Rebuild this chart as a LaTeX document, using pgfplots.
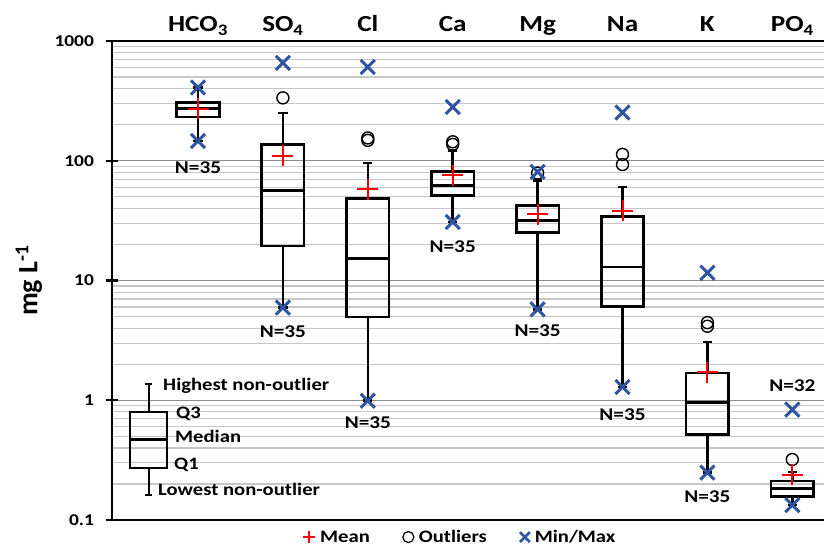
\documentclass[border=0pt]{standalone}
\usepackage{fontspec}
\setmainfont{Carlito}[FakeStretch=1.18]
\newfontfamily\plainfont{Carlito}
\usepackage{pgfplots}
\pgfplotsset{compat=1.18}
\definecolor{mmblue}{RGB}{47,85,160}
\definecolor{mmred}{RGB}{255,0,0}
\begin{document}
\begin{tikzpicture}
\begin{axis}[
  at={(112bp,27bp)}, anchor=south west,
  scale only axis, width=718bp, height=479bp,
  ymode=log, ymin=0.1, ymax=1000,
  xmin=-0.013, xmax=8.444,
  xtick=\empty,
  ytick={0.1,1,10,100,1000},
  yticklabels={0.1,1,10,100,1000},
  minor ytick={0.2,0.3,0.4,0.5,0.6,0.7,0.8,0.9,2,3,4,5,6,7,8,9,20,30,40,50,60,70,80,90,200,300,400,500,600,700,800,900},
  ytick pos=left,
  tick align=center,
  major tick length=13bp, minor tick length=0pt,
  major tick style={line width=2.2bp, black},
  ymajorgrids=true, yminorgrids=true,
  major grid style={line width=1.2bp, black!45},
  minor grid style={line width=1.2bp, black!22},
  axis line style={line width=2.6bp, black},
  yticklabel style={font=\fontsize{16.5bp}{18bp}\selectfont\bfseries, xshift=-8bp},
  /pgf/number format/assume math mode=true,
  clip=false,
  unbounded coords=jump,
  legend style={draw=none, fill=none, legend columns=3, at={(rel axis cs:0.2618,0)}, anchor=north west, yshift=-6bp,
    font=\fontsize{17.5bp}{20bp}\selectfont\bfseries,
    /tikz/every odd column/.append style={column sep=3bp},
    /tikz/every even column/.append style={column sep=31bp}},
  legend image code/.code={\draw[#1] plot coordinates {(0bp,0bp)};},
  boxst/.style={forget plot, black, line width=2.6bp, mark=none, line join=miter},
]
% ---- box plots: box (Q1-Q3), median, upper whisker + cap, lower whisker + cap
% HCO3: 146 / 232 / 273 / 306 / 409
\addplot[boxst] coordinates {(1,232)(1.25,232)(1.25,306)(0.75,306)(0.75,232)(1,232) (nan,nan) (0.75,273)(1.25,273) (nan,nan) (1,306)(1,409) (nan,nan) (0.945,409)(1.055,409) (nan,nan) (1,232)(1,146) (nan,nan) (0.945,146)(1.055,146)};
% SO4: 5.94 / 19.4 / 56.7 / 136.5 / 251
\addplot[boxst] coordinates {(2,19.4)(2.25,19.4)(2.25,136.5)(1.75,136.5)(1.75,19.4)(2,19.4) (nan,nan) (1.75,56.7)(2.25,56.7) (nan,nan) (2,136.5)(2,251) (nan,nan) (1.945,251)(2.055,251) (nan,nan) (2,19.4)(2,5.94) (nan,nan) (1.945,5.94)(2.055,5.94)};
% Cl: 0.99 / 4.96 / 15.2 / 48.6 / 96
\addplot[boxst] coordinates {(3,4.96)(3.25,4.96)(3.25,48.6)(2.75,48.6)(2.75,4.96)(3,4.96) (nan,nan) (2.75,15.2)(3.25,15.2) (nan,nan) (3,48.6)(3,96) (nan,nan) (2.945,96)(3.055,96) (nan,nan) (3,4.96)(3,0.99) (nan,nan) (2.945,0.99)(3.055,0.99)};
% Ca: 30.8 / 51.5 / 62.4 / 81.7 / 122
\addplot[boxst] coordinates {(4,51.5)(4.25,51.5)(4.25,81.7)(3.75,81.7)(3.75,51.5)(4,51.5) (nan,nan) (3.75,62.4)(4.25,62.4) (nan,nan) (4,81.7)(4,122) (nan,nan) (3.945,122)(4.055,122) (nan,nan) (4,51.5)(4,30.8) (nan,nan) (3.945,30.8)(4.055,30.8)};
% Mg: 5.75 / 25.1 / 31.8 / 42.5 / 68.7
\addplot[boxst] coordinates {(5,25.1)(5.25,25.1)(5.25,42.5)(4.75,42.5)(4.75,25.1)(5,25.1) (nan,nan) (4.75,31.8)(5.25,31.8) (nan,nan) (5,42.5)(5,68.7) (nan,nan) (4.945,68.7)(5.055,68.7) (nan,nan) (5,25.1)(5,5.75) (nan,nan) (4.945,5.75)(5.055,5.75)};
% Na: 1.29 / 6.1 / 13.0 / 34.4 / 60.4
\addplot[boxst] coordinates {(6,6.1)(6.25,6.1)(6.25,34.4)(5.75,34.4)(5.75,6.1)(6,6.1) (nan,nan) (5.75,13.0)(6.25,13.0) (nan,nan) (6,34.4)(6,60.4) (nan,nan) (5.945,60.4)(6.055,60.4) (nan,nan) (6,6.1)(6,1.29) (nan,nan) (5.945,1.29)(6.055,1.29)};
% K: 0.249 / 0.52 / 0.957 / 1.69 / 3.07
\addplot[boxst] coordinates {(7,0.52)(7.25,0.52)(7.25,1.69)(6.75,1.69)(6.75,0.52)(7,0.52) (nan,nan) (6.75,0.957)(7.25,0.957) (nan,nan) (7,1.69)(7,3.07) (nan,nan) (6.945,3.07)(7.055,3.07) (nan,nan) (7,0.52)(7,0.249) (nan,nan) (6.945,0.249)(7.055,0.249)};
% PO4: 0.133 / 0.158 / 0.183 / 0.212 / 0.252
\addplot[boxst] coordinates {(8,0.158)(8.25,0.158)(8.25,0.212)(7.75,0.212)(7.75,0.158)(8,0.158) (nan,nan) (7.75,0.183)(8.25,0.183) (nan,nan) (8,0.212)(8,0.252) (nan,nan) (7.945,0.252)(8.055,0.252) (nan,nan) (8,0.158)(8,0.133) (nan,nan) (7.945,0.133)(8.055,0.133)};
% key box: 0.163 / 0.274 / 0.47 / 0.80 / 1.36
\addplot[boxst, line width=2.1bp] coordinates {(0.419,0.274)(0.639,0.274)(0.639,0.80)(0.199,0.80)(0.199,0.274)(0.419,0.274) (nan,nan) (0.199,0.47)(0.639,0.47) (nan,nan) (0.419,0.80)(0.419,1.36) (nan,nan) (0.374,1.36)(0.464,1.36) (nan,nan) (0.419,0.274)(0.419,0.163) (nan,nan) (0.374,0.163)(0.464,0.163)};
% ---- outliers
\addplot[forget plot, only marks, mark=o, mark size=6bp, black, line width=1.4bp] coordinates {
 (2,335) (3,148) (3,155) (4,137) (4,144) (5,79) (6,113) (6,93) (7,4.45) (7,4.15) (8,0.32)};
% ---- min / max
\addplot[forget plot, only marks, mark=x, mark size=10bp, mmblue, line width=3bp] coordinates {
 (1,146) (1,409) (2,5.94) (2,656) (3,0.99) (3,607) (4,30.8) (4,281) (5,5.75) (5,80.7) (6,1.29) (6,253) (7,0.249) (7,11.6) (8,0.133) (8,0.836)};
% ---- mean
\addplot[forget plot, only marks, mark=+, mark size=10.5bp, mmred, line width=2bp] coordinates {
 (1,273) (2,110) (3,57.8) (4,76) (5,35.6) (6,38.1) (7,1.72) (8,0.239)};
% ---- legend
\addlegendimage{only marks, mark=+, mark size=6bp, mmred, line width=2bp}
\addlegendentry{Mean}
\addlegendimage{only marks, mark=o, mark size=5.5bp, black, line width=1.2bp}
\addlegendentry{Outliers}
\addlegendimage{only marks, mark=x, mark size=7bp, mmblue, line width=2.6bp}
\addlegendentry{Min/Max}
% ---- y axis title
\node[rotate=90, anchor=center, inner sep=0pt, font=\plainfont\fontsize{28bp}{30bp}\selectfont\bfseries] at ([xshift=-83bp]rel axis cs:0,0.5) {mg L\textsuperscript{-1}};
% ---- category labels
\begin{scope}[every node/.style={anchor=base, yshift=9bp, font=\fontsize{23bp}{26bp}\selectfont\bfseries}]
\node at (axis cs:1,1000) {HCO\textsubscript{3}};
\node at (axis cs:2,1000) {SO\textsubscript{4}};
\node at (axis cs:3,1000) {Cl};
\node at (axis cs:4,1000) {Ca};
\node at (axis cs:5,1000) {Mg};
\node at (axis cs:6,1000) {Na};
\node at (axis cs:7,1000) {K};
\node at (axis cs:8,1000) {PO\textsubscript{4}};
\end{scope}
% ---- N labels
\begin{scope}[every node/.style={font=\fontsize{18bp}{20bp}\selectfont\bfseries, anchor=center}]
\node at (axis cs:1,87.1) {N=35};
\node at (axis cs:2,3.77) {N=35};
\node at (axis cs:3,0.646) {N=35};
\node at (axis cs:4,19.3) {N=35};
\node at (axis cs:5,3.84) {N=35};
\node at (axis cs:6,0.764) {N=35};
\node at (axis cs:7,0.156) {N=35};
\node at (axis cs:8,1.33) {N=32};
\end{scope}
% ---- key labels
\begin{scope}[every node/.style={font=\fontsize{17.5bp}{20bp}\selectfont\bfseries, anchor=base west, inner sep=0pt}]
\node at (axis cs:0.588,1.20) {Highest non-outlier};
\node at (axis cs:0.741,0.705) {Q3};
\node at (axis cs:0.729,0.444) {Median};
\node at (axis cs:0.717,0.263) {Q1};
\node at (axis cs:0.529,0.159) {Lowest non-outlier};
\end{scope}
\end{axis}
\pgfresetboundingbox
\path[use as bounding box] (0,0) rectangle (824bp,547bp);
\end{tikzpicture}
\end{document}
